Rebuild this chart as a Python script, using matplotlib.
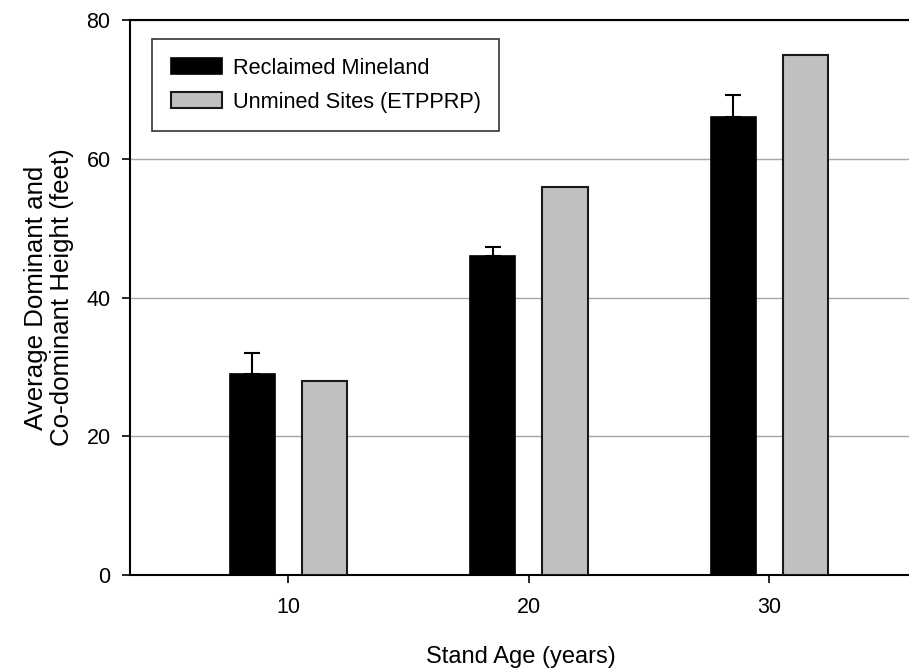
import numpy as np
import matplotlib
matplotlib.use("Agg")
import matplotlib.pyplot as plt

plt.rcParams['font.family'] = ['Liberation Sans', 'DejaVu Sans']

ages = [10, 20, 30]
reclaimed = [29.0, 46.0, 66.0]
reclaimed_se = [3.0, 1.3, 3.2]
unmined = [28.0, 56.0, 75.0]

fig = plt.figure(figsize=(9.09, 6.68), dpi=100)
ax = fig.add_axes([130/909, 1 - 575/668, 1 - 130/909 + 0.002, (575 - 20)/668])

x = np.array(ages, dtype=float)
w = 1.875
off = 1.5

ax.bar(x - off, reclaimed, width=w, color='black', edgecolor='black', linewidth=1.2,
       label='Reclaimed Mineland', zorder=3)
ax.errorbar(x - off, reclaimed, yerr=[np.zeros(3), reclaimed_se], fmt='none',
            ecolor='black', elinewidth=1.5, capsize=6, capthick=1.5, zorder=2)
ax.bar(x + off, unmined, width=w, color='#c0c0c0', edgecolor='#1a1a1a', linewidth=1.5,
       label='Unmined Sites (ETPPRP)', zorder=3)

ax.set_xlim(10 - 158/24, 10 - 158/24 + (909 - 130)/24)
ax.set_ylim(0, 80)
ax.set_xticks(ages)
ax.set_yticks([0, 20, 40, 60, 80])
ax.yaxis.grid(True, color='#a8a8a8', linewidth=1, zorder=0)
ax.set_axisbelow(True)

for s in ax.spines.values():
    s.set_linewidth(1.5)
ax.spines['right'].set_visible(False)
ax.tick_params(axis='both', direction='out', length=6, width=1.2, labelsize=15.5, pad=8)
ax.tick_params(axis='x', pad=10)

ax.set_xlabel('Stand Age (years)', fontsize=17, labelpad=20)
ax.set_ylabel('Average Dominant and\nCo-dominant Height (feet)', fontsize=18.6, labelpad=9,
              linespacing=1.12)

leg = ax.legend(loc='upper left', bbox_to_anchor=(152/909, 1 - 39/668),
                bbox_transform=fig.transFigure, fontsize=15.7, frameon=True,
                fancybox=False, edgecolor='black', handlelength=2.35, handleheight=0.8,
                handletextpad=0.5, labelspacing=0.6, borderpad=0.85, borderaxespad=0)
leg.get_frame().set_linewidth(1.2)

fig.savefig('out.png', dpi=100)
